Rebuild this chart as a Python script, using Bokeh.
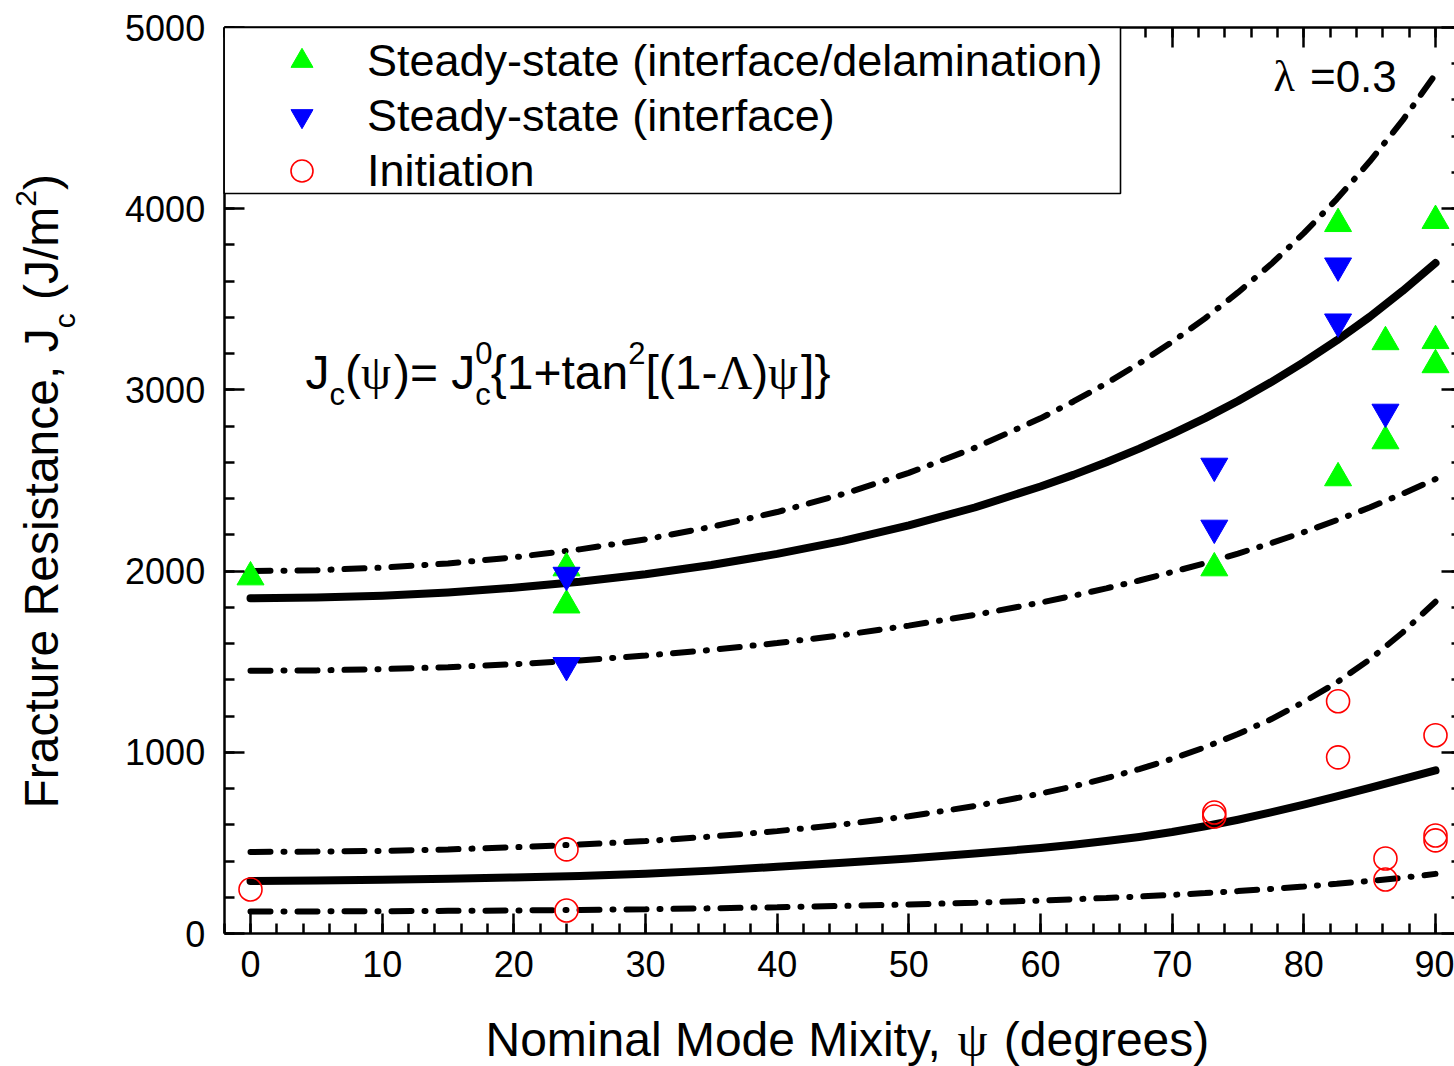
import math
from bokeh.plotting import figure
from bokeh.models import (LinearAxis, Range1d, Legend, LegendItem, Label,
                          BoxAnnotation, SingleIntervalTicker, CustomJSTickFormatter)
from bokeh.embed import file_html
from bokeh.resources import INLINE

# ---------------- data ----------------
psi = [0, 5, 10, 15, 20, 25, 30, 35, 40, 45, 50, 55, 60, 62.5, 65, 67.5, 70, 72.5,
       75, 77.5, 80, 82.5, 85, 87.5, 90]

ss_fit_mid = [1850, 1854, 1864, 1882, 1908, 1941, 1983, 2034, 2095, 2167, 2252, 2351,
              2467, 2531, 2601, 2676, 2757, 2844, 2939, 3042, 3153, 3273, 3403, 3546, 3700]
ss_fit_hi = [2000, 2005, 2019, 2042, 2076, 2120, 2175, 2244, 2326, 2425, 2542, 2680,
             2843, 2936, 3036, 3146, 3265, 3395, 3538, 3693, 3865, 4053, 4260, 4487, 4742]
ss_fit_lo = [1450, 1452, 1459, 1470, 1486, 1507, 1534, 1565, 1603, 1647, 1699, 1758,
             1826, 1864, 1905, 1948, 1995, 2044, 2097, 2154, 2215, 2281, 2351, 2427, 2508]
init_fit_mid = [290, 292, 297, 302, 309, 318, 330, 347, 368, 390, 414, 441,
                472, 490, 510, 533, 560, 592, 628, 668, 711, 757, 804, 852, 900]
init_fit_hi = [450, 452, 456, 464, 476, 491, 510, 535, 565, 602, 647, 703,
               772, 812, 857, 907, 964, 1028, 1101, 1182, 1278, 1385, 1512, 1661, 1831]
init_fit_lo = [122, 122, 123, 125, 127, 130, 134, 139, 145, 152, 160, 170,
               182, 189, 196, 204, 213, 223, 234, 246, 259, 274, 290, 308, 329]

delam_x = [0, 24, 24, 73.2, 82.6, 82.6, 86.2, 86.2, 90, 90, 90]
delam_y = [1967, 2017, 1812, 2017, 3917, 2514, 3265, 2718, 3934, 3271, 3138]

iface_x = [24, 24, 73.2, 73.2, 82.6, 82.6, 86.2]
iface_y = [1978, 1480, 2580, 2238, 3685, 3376, 2878]

init_x = [0, 24, 24, 73.2, 73.2, 82.6, 82.6, 86.2, 86.2, 90, 90, 90]
init_y = [243, 464, 127, 668, 646, 1282, 972, 414, 298, 1094, 541, 514]

legend_labels = ["Steady-state (interface/delamination)",
                 "Steady-state (interface)",
                 "Initiation"]
x_bounds = (-2, 92)
y_bounds = (0, 5000)
x_tick_interval = 10
y_tick_interval = 1000

# ---------------- layout (page pixels) ----------------
W, H = 1454, 1066
SX = 1185.0 / 90.0        # px per degree
SY = 906.0 / 5000.0       # px per J/m^2
PX0, PY0 = 250.0, 933.0   # page px of (0, 0)

XA, XB = (0 - PX0) / SX, (W - PX0) / SX
YA, YB = (PY0 - H) / SY, PY0 / SY

SANS = "Liberation Sans"
SERIF = "Liberation Serif"
BASE_FIX = 0.35           # observed extra drop of 'alphabetic' labels, in em


def px2x(px):
    return (px - PX0) / SX


def py2y(py):
    return (PY0 - py) / SY


p = figure(width=W, height=H, x_range=Range1d(XA, XB), y_range=Range1d(YA, YB),
           output_backend="svg", toolbar_location=None, min_border=0,
           x_axis_type=None, y_axis_type=None)
p.xgrid.visible = False
p.ygrid.visible = False
p.outline_line_color = None
p.background_fill_color = "white"
p.border_fill_color = "white"


def make_axis(loc, bounds, interval, show_labels, standoff=18):
    ax = LinearAxis(fixed_location=loc, bounds=bounds,
                    ticker=SingleIntervalTicker(interval=interval, num_minor_ticks=5))
    ax.axis_line_width = 2.5
    ax.axis_line_color = "black"
    ax.major_tick_line_width = 2.5
    ax.minor_tick_line_width = 2.5
    ax.major_tick_line_color = "black"
    ax.minor_tick_line_color = "black"
    ax.major_tick_in = 20
    ax.major_tick_out = 0
    ax.minor_tick_in = 10
    ax.minor_tick_out = 0
    if show_labels:
        ax.major_label_text_font = SANS
        ax.major_label_text_font_size = "36px"
        ax.major_label_text_color = "black"
        ax.major_label_standoff = standoff
    else:
        ax.major_label_text_font_size = "0px"
        ax.major_label_standoff = 0
        ax.formatter = CustomJSTickFormatter(code="return ''")
    return ax


p.add_layout(make_axis(y_bounds[0], x_bounds, x_tick_interval, True, 17), "below")
p.add_layout(make_axis(x_bounds[0], y_bounds, y_tick_interval, True, 19), "left")
p.add_layout(make_axis(y_bounds[1], x_bounds, x_tick_interval, False), "above")
p.add_layout(make_axis(x_bounds[1], y_bounds, y_tick_interval, False), "right")

# ---------------- curves ----------------
DD = "20 13 1 13"
p.line(psi, ss_fit_hi, line_width=6, color="black", line_dash=DD, line_cap="round")
p.line(psi, ss_fit_lo, line_width=6, color="black", line_dash=DD, line_cap="round")
p.line(psi, ss_fit_mid, line_width=8, color="black", line_cap="round", line_join="round")
p.line(psi, init_fit_hi, line_width=6, color="black", line_dash=DD, line_cap="round")
p.line(psi, init_fit_lo, line_width=6, color="black", line_dash=DD, line_cap="round")
p.line(psi, init_fit_mid, line_width=8, color="black", line_cap="round", line_join="round")

# ---------------- points ----------------
r_delam = p.scatter(delam_x, delam_y, marker="triangle", size=27,
                    fill_color="#00FF00", line_color="#00FF00", line_width=1)
r_iface = p.scatter(iface_x, iface_y, marker="inverted_triangle", size=27,
                    fill_color="#0000FF", line_color="#0000FF", line_width=1)
r_init = p.scatter(init_x, init_y, marker="circle", size=23,
                   fill_color=None, line_color="#FF0000", line_width=1.6)

# legend frame
p.add_layout(BoxAnnotation(left=x_bounds[0], right=px2x(1120), bottom=py2y(193),
                           top=y_bounds[1], fill_color="white", fill_alpha=1.0,
                           line_color="black", line_width=1.6, line_alpha=1.0))

legend = Legend(items=[LegendItem(label=legend_labels[0], renderers=[r_delam]),
                       LegendItem(label=legend_labels[1], renderers=[r_iface]),
                       LegendItem(label=legend_labels[2], renderers=[r_init])],
                location=(274, H - 198), orientation="vertical",
                glyph_width=55, glyph_height=55, label_height=55, label_width=10,
                label_standoff=38, spacing=0, padding=3, margin=0,
                border_line_color=None, background_fill_alpha=0,
                label_text_font=SANS, label_text_font_size="45px",
                label_text_color="black")
p.add_layout(legend)

# ---------------- rich text ----------------
W_SANS = {' ': 278, '(': 333, ')': 333, ',': 278, '-': 333, '.': 278, '/': 278,
          '=': 584, '+': 584, '[': 278, ']': 278, '{': 334, '}': 334}
for d in "0123456789":
    W_SANS[d] = 556
for ch, w in zip("abcdefghijklmnopqrstuvwxyz",
                 [556, 556, 500, 556, 556, 278, 556, 556, 222, 222, 500, 222, 833,
                  556, 556, 556, 556, 333, 500, 278, 556, 500, 722, 500, 500, 500]):
    W_SANS[ch] = w
for ch, w in zip("ABCDEFGHIJKLMNOPQRSTUVWXYZ",
                 [667, 667, 722, 722, 667, 611, 778, 722, 278, 500, 667, 556, 833,
                  722, 778, 667, 778, 722, 667, 611, 722, 667, 944, 667, 667, 611]):
    W_SANS[ch] = w
W_SERIF = {'ψ': 686, 'Λ': 722, 'λ': 550, ' ': 250}


def adv(text, font, size):
    tbl = W_SERIF if font == SERIF else W_SANS
    return sum(tbl.get(ch, 556) for ch in text) * size / 1000.0


def rich_h(segs, start_px, base_py):
    x = start_px
    for text, font, size, dy, move in segs:
        lead = len(text) - len(text.lstrip(" "))
        x0 = x + adv(text[:lead], font, size)
        yb = base_py + dy - BASE_FIX * size
        p.add_layout(Label(x=px2x(x0), y=py2y(yb), text=text.strip(" "),
                           text_font=font, text_font_size=f"{size}px",
                           text_baseline="alphabetic", text_align="left",
                           text_color="black"))
        if move:
            x += adv(text, font, size)


def rich_v(segs, base_px, start_py):
    y = start_py
    for text, font, size, dx, move in segs:
        lead = len(text) - len(text.lstrip(" "))
        y0 = y - adv(text[:lead], font, size)
        xb = base_px + dx - BASE_FIX * size
        p.add_layout(Label(x=px2x(xb), y=py2y(y0), text=text.strip(" "),
                           angle=math.pi / 2,
                           text_font=font, text_font_size=f"{size}px",
                           text_baseline="alphabetic", text_align="left",
                           text_color="black"))
        if move:
            y -= adv(text, font, size)


# y-axis title
rich_v([("Fracture Resistance, J", SANS, 48, 0, True),
        ("c", SANS, 30, 16, True),
        (" (J/m", SANS, 48, 0, True),
        ("2", SANS, 30, -22, True),
        (")", SANS, 48, 0, True)], 58, 808)

# x-axis title
rich_h([("Nominal Mode Mixity, ", SANS, 48, 0, True),
        ("ψ", SERIF, 48, 0, True),
        (" (degrees)", SANS, 48, 0, True)], 485, 1056)

# formula
rich_h([("J", SANS, 48, 0, True),
        ("c", SANS, 31, 16, True),
        ("(", SANS, 48, 0, True),
        ("ψ", SERIF, 48, 0, True),
        (")= J", SANS, 48, 0, True),
        ("0", SANS, 31, -26, False),
        ("c", SANS, 31, 16, True),
        ("{1+tan", SANS, 48, 0, True),
        ("2", SANS, 31, -26, True),
        ("[(1-", SANS, 48, 0, True),
        ("Λ", SERIF, 48, 0, True),
        (")", SANS, 48, 0, True),
        ("ψ", SERIF, 48, 0, True),
        ("]}", SANS, 48, 0, True)], 305, 389)

# lambda annotation
rich_h([("λ", SERIF, 44, 0, True),
        (" =0.3", SANS, 44, 0, True)], 1273, 91)

open("out.html", "w").write(file_html(p, INLINE))
